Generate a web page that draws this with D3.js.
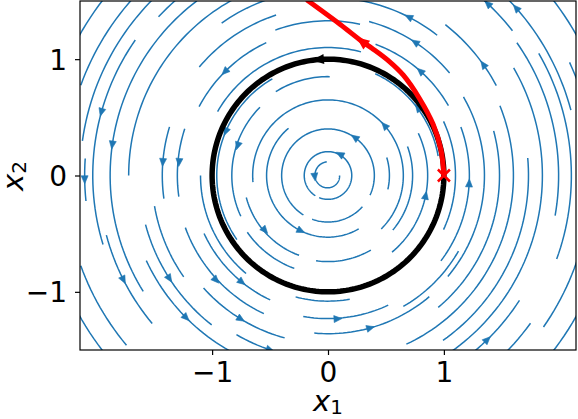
<!DOCTYPE html>
<html><head><meta charset="utf-8">
<script src="https://cdn.jsdelivr.net/npm/d3@7"></script>
<style>body{margin:0;background:#fff}svg{display:block}text{font-family:"DejaVu Sans",sans-serif}</style>
</head><body><svg id="c" width="578" height="419"></svg>
<script>
// axis settings
const xDomain = [-2.14, 2.14];
const yDomain = [-1.5, 1.5];
const xTicks = [-1, 0, 1];
const yTicks = [-1, 0, 1];
// streamline segments: [radius, startAngleDeg, endAngleDeg, endRadius?]
const streamArcs = [
  [0.118, 95, 360, 0.10],
  [0.205, -112, 238], [0.40, -25, 238], [0.40, 250, 318],
  [0.53, 130, 300], [0.53, -13, 17], [0.65, -45, 185],
  [0.73, 195, 250], [0.73, -40, 20], [0.74, 262, 300],
  [0.85, 89, 122], [0.83, 135, 205], [0.85, 215, 250], [0.86, -50, 25],
  [0.96, 120, 215], [0.965, 10, 65],
  [1.08, 255, 280], [1.10, 75, 150], [1.10, 180, 230], [1.10, -25, 25],
  [1.20, 30, 70], [1.22, -37, 20], [1.18, 205, 245], [1.23, 260, 295],
  [1.30, 162, 188], [1.31, 200, 245], [1.30, 300, 330], [1.33, 78, 110],
  [1.37, 40, 75], [1.36, 265, 310], [1.26, 115, 152], [1.35, -40, 30],
  [1.43, 163, 188], [1.445, 222, 255], [1.48, -50, 15], [1.45, 108, 140],
  [1.53, 52, 82], [1.52, 190, 215], [1.60, 95, 125],
  [1.58, 240, 262], [1.60, -65, 22],
  [1.645, 28, 52], [1.63, 195, 232],
  [1.73, 205, 245], [1.72, 100, 180], [1.73, -55, 5],
  [1.88, 127, 212], [1.85, -55, 30],
  [1.98, 195, 220], [1.97, -52, -33], [1.99, -10, 35], [2.0, 128, 137],
  [2.02, 38, 56], [2.03, 145, 197],
  [2.10, 176, 186], [2.10, -20, 30], [2.16, -45, -36], [2.17, 15, 44], [2.14, 130, 172],
  [2.27, 135, 160], [2.27, 200, 220], [2.27, -35, -15], [2.3, 0, 25],
  [2.46, 130, 160], [2.46, 200, 225], [2.46, -40, -25], [2.46, 25, 40]
];
// streamline arrows: [radius, angleDeg]
const streamArrows = [
  [0.115, 187], [0.21, 61], [0.40, 55], [0.53, 244], [0.65, 41.5], [0.72, 221],
  [0.82, 162], [0.86, -11.4], [0.96, 157], [0.97, 37],
  [2.03, 164.5], [1.88, 172], [1.43, 175.5], [1.29, 175], [1.26, 135], [2.10, 181],
  [1.53, 63], [2.02, 47], [2.17, 41.6], [1.37, 56.8], [1.645, 35.5], [1.2, 48.5],
  [1.98, 207], [1.63, 213], [1.32, 223], [1.18, 231], [1.73, 225], [1.445, 238.7], [1.58, 251.6],
  [1.22, -3], [1.235, -86], [1.36, -74.3], [1.97, -45.7]
];
// limit cycle
const cycleRadius = 1;
const cycleArrowAngle = 95;
// red trajectory points (x1, x2)
const trajX1 = [-0.184, 0.103, 0.29, 0.39, 0.523, 0.65, 0.789, 0.906, 0.974, 1.0];
const trajX2 = [1.51, 1.30, 1.155, 1.086, 0.985, 0.862, 0.662, 0.442, 0.225, 0.0];
const trajArrowIndex = 2;
const startPoint = [1, 0];

const svg = d3.select('#c');
const x = d3.scaleLinear().domain(xDomain).range([80, 576]);
const y = d3.scaleLinear().domain(yDomain).range([350, 1]);
const blue = '#1f77b4';

svg.append('defs').append('clipPath').attr('id', 'clip')
  .append('rect').attr('x', 80).attr('y', 1).attr('width', 496).attr('height', 349);
const g = svg.append('g').attr('clip-path', 'url(#clip)');

const rad = Math.PI / 180;
const line = d3.line().x(d => x(d[0])).y(d => y(d[1]));
function arcPoints(r0, a0, a1, r1) {
  if (r1 === undefined) r1 = r0;
  const n = Math.max(2, Math.ceil(Math.abs(a1 - a0) / 1.5));
  return d3.range(n + 1).map(i => {
    const t = i / n, a = (a0 + (a1 - a0) * t) * rad, r = r0 + (r1 - r0) * t;
    return [r * Math.cos(a), r * Math.sin(a)];
  });
}
g.selectAll('path.sl').data(streamArcs).join('path').attr('class', 'sl')
  .attr('d', d => line(arcPoints(d[0], d[1], d[2], d[3])))
  .attr('fill', 'none').attr('stroke', blue).attr('stroke-width', 1.5);

function arrowHead(px, py, ang, len, wid) {
  const ux = Math.cos(ang), uy = Math.sin(ang);
  const tx = px + ux * len * 0.5, ty = py + uy * len * 0.5;
  const bx = px - ux * len * 0.5, by = py - uy * len * 0.5;
  const nx = -uy * wid / 2, ny = ux * wid / 2;
  return `M${tx},${ty}L${bx + nx},${by + ny}L${bx - nx},${by - ny}Z`;
}
function ccwDir(a) {
  return Math.atan2(-Math.cos(a * rad), -Math.sin(a * rad));
}
g.selectAll('path.ar').data(streamArrows).join('path').attr('class', 'ar')
  .attr('d', d => arrowHead(x(d[0] * Math.cos(d[1] * rad)), y(d[0] * Math.sin(d[1] * rad)), ccwDir(d[1]), 8, 7))
  .attr('fill', blue).attr('stroke', blue).attr('stroke-width', 0.6);

// black limit cycle
g.append('path').attr('d', line(arcPoints(cycleRadius, 0, 360)))
  .attr('fill', 'none').attr('stroke', '#000').attr('stroke-width', 5.5);
g.append('path')
  .attr('d', arrowHead(x(cycleRadius * Math.cos(cycleArrowAngle * rad)), y(cycleRadius * Math.sin(cycleArrowAngle * rad)), ccwDir(cycleArrowAngle), 12, 10))
  .attr('fill', '#000');

// red trajectory
const traj = trajX1.map((v, i) => [v, trajX2[i]]);
g.append('path').attr('d', d3.line().x(d => x(d[0])).y(d => y(d[1])).curve(d3.curveCatmullRom.alpha(0.5))(traj))
  .attr('fill', 'none').attr('stroke', 'red').attr('stroke-width', 5);
{
  const p = traj[trajArrowIndex], q = traj[trajArrowIndex - 1];
  const ang = Math.atan2(y(q[1]) - y(p[1]), x(q[0]) - x(p[0]));
  g.append('path').attr('d', arrowHead(x(p[0]), y(p[1]), ang, 13, 11)).attr('fill', 'red');
}
{
  const cx = x(startPoint[0]), cy = y(startPoint[1]), s = 6;
  svg.append('path').attr('d', `M${cx - s},${cy - s}L${cx + s},${cy + s}M${cx - s},${cy + s}L${cx + s},${cy - s}`)
    .attr('stroke', 'red').attr('stroke-width', 2.5);
}

// frame
svg.append('rect').attr('x', 80).attr('y', 1).attr('width', 496).attr('height', 349)
  .attr('fill', 'none').attr('stroke', '#000').attr('stroke-width', 1.2);

// axes
const fmt = d => d < 0 ? '\u2212' + Math.abs(d) : String(d);
const xa = svg.append('g').attr('transform', 'translate(0,350)')
  .call(d3.axisBottom(x).tickValues(xTicks).tickFormat(fmt).tickSizeOuter(0).tickSize(5).tickPadding(5));
const ya = svg.append('g').attr('transform', 'translate(80,0)')
  .call(d3.axisLeft(y).tickValues(yTicks).tickFormat(fmt).tickSizeOuter(0).tickSize(5).tickPadding(8));
[xa, ya].forEach(a => {
  a.select('.domain').remove();
  a.selectAll('line').attr('stroke', '#000').attr('stroke-width', 1.2);
  a.selectAll('text').attr('font-size', 28).attr('fill', '#000').attr('font-family', '"DejaVu Sans"');
});
xa.selectAll('text').attr('dy', null).attr('y', 32);
ya.selectAll('text').attr('dy', '0.36em');

// axis labels
const xl = svg.append('text').attr('x', 328).attr('y', 411).attr('text-anchor', 'middle')
  .attr('font-size', 29).attr('font-family', '"DejaVu Sans"');
xl.append('tspan').attr('font-style', 'italic').text('x');
xl.append('tspan').attr('font-size', 20).attr('dy', 3).text('1');
const yl = svg.append('text').attr('transform', 'translate(23,176) rotate(-90)').attr('text-anchor', 'middle')
  .attr('font-size', 29).attr('font-family', '"DejaVu Sans"');
yl.append('tspan').attr('font-style', 'italic').text('x');
yl.append('tspan').attr('font-size', 20).attr('dy', 3).text('2');
</script></body></html>
